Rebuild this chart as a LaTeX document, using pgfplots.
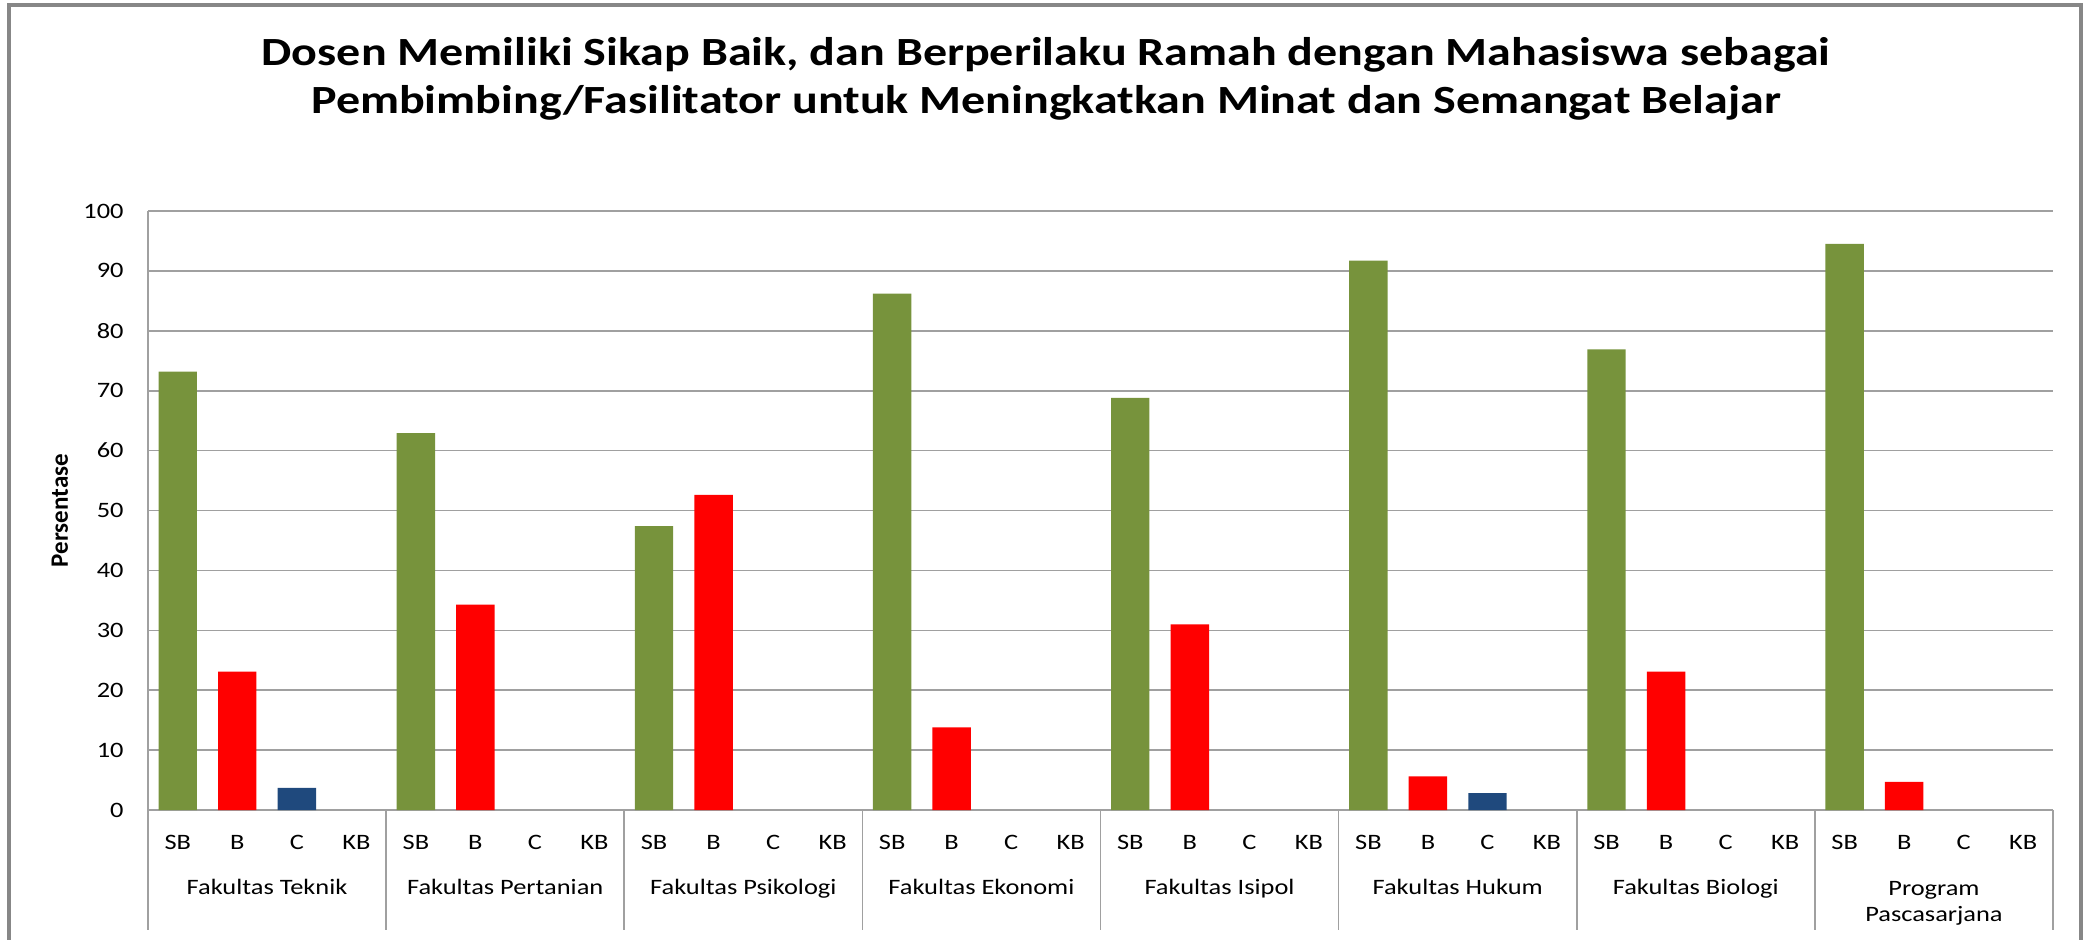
\documentclass[border=0pt]{standalone}
\usepackage{fontspec}
\setmainfont[FakeStretch=1.2]{Carlito}
\newfontfamily\ylabfont{Carlito}
\usepackage{pgfplots}
\pgfplotsset{compat=1.18}
\definecolor{sbgreen}{HTML}{77933C}
\definecolor{bred}{HTML}{FF0000}
\definecolor{cblue}{HTML}{1F497D}
\definecolor{gridgray}{HTML}{A0A0A0}
\definecolor{framegray}{HTML}{878787}
\begin{document}
\begin{tikzpicture}
\useasboundingbox (0,0) rectangle (1042.5pt,469.5pt);
\draw[framegray, line width=1.75pt] (4.5pt,-10pt) rectangle (1040.5pt,467pt);
\node[font=\fontsize{20}{24}\selectfont\bfseries, align=center] at (523pt,430pt)
  {Dosen Memiliki Sikap Baik, dan Berperilaku Ramah dengan Mahasiswa sebagai\\Pembimbing/Fasilitator untuk Meningkatkan Minat dan Semangat Belajar};
\begin{axis}[at={(74pt,64.5pt)}, anchor=south west, scale only axis,
  width=952.5pt, height=299.5pt,
  xmin=-0.5, xmax=31.5, ymin=0, ymax=100,
  axis lines=left, axis line style={gridgray, line width=0.8pt, -},
  ymajorgrids, grid style={gridgray, line width=0.8pt},
  ytick={0,10,...,100}, xtick={0,...,31},
  xticklabels={SB,B,C,KB,SB,B,C,KB,SB,B,C,KB,SB,B,C,KB,SB,B,C,KB,SB,B,C,KB,SB,B,C,KB,SB,B,C,KB},
  major tick length=0pt,
  /pgf/number format/assume math mode=true,
  tick label style={font=\fontsize{11}{13}\selectfont},
  yticklabel style={anchor=east, inner sep=0pt, xshift=-12pt},
  xticklabel style={anchor=center, inner sep=0pt, yshift=-16pt},
  every axis y label/.style={at={(axis description cs:-0.0462,0.5)}, rotate=90, anchor=center, inner sep=0pt, font=\fontsize{12.5}{14}\selectfont},
  ylabel={\ylabfont\bfseries Persentase},
  ybar, bar width=19.2pt, clip=false]
\addplot[fill=sbgreen, draw=none, bar shift=0pt] coordinates {(0,73.2) (4,62.9) (8,47.4) (12,86.2) (16,68.8) (20,91.7) (24,76.9) (28,94.5)};
\addplot[fill=bred, draw=none, bar shift=0pt] coordinates {(1,23.1) (5,34.3) (9,52.6) (13,13.8) (17,31.0) (21,5.6) (25,23.1) (29,4.7)};
\addplot[fill=cblue, draw=none, bar shift=0pt] coordinates {(2,3.7) (22,2.8)};
\draw[gridgray, line width=0.8pt] (axis cs:-0.5,0) -- ([yshift=-60pt]axis cs:-0.5,0);
\draw[gridgray, line width=0.8pt] (axis cs:3.5,0) -- ([yshift=-60pt]axis cs:3.5,0);
\draw[gridgray, line width=0.8pt] (axis cs:7.5,0) -- ([yshift=-60pt]axis cs:7.5,0);
\draw[gridgray, line width=0.8pt] (axis cs:11.5,0) -- ([yshift=-60pt]axis cs:11.5,0);
\draw[gridgray, line width=0.8pt] (axis cs:15.5,0) -- ([yshift=-60pt]axis cs:15.5,0);
\draw[gridgray, line width=0.8pt] (axis cs:19.5,0) -- ([yshift=-60pt]axis cs:19.5,0);
\draw[gridgray, line width=0.8pt] (axis cs:23.5,0) -- ([yshift=-60pt]axis cs:23.5,0);
\draw[gridgray, line width=0.8pt] (axis cs:27.5,0) -- ([yshift=-60pt]axis cs:27.5,0);
\draw[gridgray, line width=0.8pt] (axis cs:31.5,0) -- ([yshift=-60pt]axis cs:31.5,0);
\tikzset{grp/.style={anchor=base, inner sep=0pt, font=\fontsize{11}{13}\selectfont}}
\node[grp, yshift=-42pt] at (axis cs:1.5,0) {Fakultas Teknik};
\node[grp, yshift=-42pt] at (axis cs:5.5,0) {Fakultas Pertanian};
\node[grp, yshift=-42pt] at (axis cs:9.5,0) {Fakultas Psikologi};
\node[grp, yshift=-42pt] at (axis cs:13.5,0) {Fakultas Ekonomi};
\node[grp, yshift=-42pt] at (axis cs:17.5,0) {Fakultas Isipol};
\node[grp, yshift=-42pt] at (axis cs:21.5,0) {Fakultas Hukum};
\node[grp, yshift=-42pt] at (axis cs:25.5,0) {Fakultas Biologi};
\node[grp, yshift=-42.5pt] at (axis cs:29.5,0) {Program};
\node[grp, yshift=-55.8pt] at (axis cs:29.5,0) {Pascasarjana};
\end{axis}
\end{tikzpicture}
\end{document}
